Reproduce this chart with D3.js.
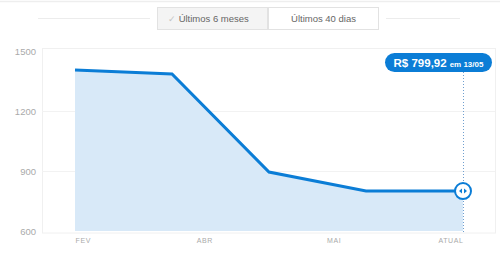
<!DOCTYPE html>
<html>
<head>
<meta charset="utf-8">
<script src="https://cdn.jsdelivr.net/npm/d3@7"></script>
<style>
  html, body { margin: 0; padding: 0; background: #fff; }
  svg { display: block; font-family: "Liberation Sans", Arial, sans-serif; }
</style>
</head>
<body>
<svg id="chart" width="500" height="263"></svg>
<script>
// Price history (R$) for the selected period
const points = ["fev", "mar", "abr", "mai", "atual"];
const prices = [1405, 1385, 895, 800, 799.92];
const currentLabel = "R$ 799,92";
const currentDate = "em 13/05";
const xTickLabels = ["FEV", "ABR", "MAI", "ATUAL"];
const xTickAt = [0, 4 / 3, 8 / 3, 4];
const yTicks = [600, 900, 1200, 1500];
const periods = ["Últimos 6 meses", "Últimos 40 dias"];

const blue = "#0b7dd6";
const svg = d3.select("#chart");

// ---- header: period switch ----
svg.append("line").attr("x1", 0).attr("x2", 500).attr("y1", 1.5).attr("y2", 1.5)
  .attr("stroke", "#eeeeee").attr("stroke-width", 1.5);
svg.append("line").attr("x1", 38).attr("x2", 150).attr("y1", 18.5).attr("y2", 18.5)
  .attr("stroke", "#ececec");
svg.append("line").attr("x1", 386).attr("x2", 460).attr("y1", 18.5).attr("y2", 18.5)
  .attr("stroke", "#ececec");

const btn = d3.scaleBand().domain(periods).range([157, 379]).padding(0);
const btnG = svg.append("g");
btnG.selectAll("rect").data(periods).join("rect")
  .attr("x", d => btn(d) + 0.5).attr("y", 7.5)
  .attr("width", btn.bandwidth() - 1).attr("height", 22)
  .attr("fill", (d, i) => i === 0 ? "#f4f4f4" : "#ffffff")
  .attr("stroke", "#e2e2e2");
btnG.selectAll("text").data(periods).join("text")
  .attr("x", (d, i) => btn(d) + btn.bandwidth() / 2 + (i === 0 ? -4 : 0))
  .attr("y", 22)
  .attr("text-anchor", "middle")
  .attr("font-size", 9.5)
  .attr("fill", "#666")
  .each(function (d, i) {
    const t = d3.select(this);
    if (i === 0) {
      t.append("tspan").attr("fill", "#c4c4c4").attr("font-size", 9).text("✓ ");
    }
    t.append("tspan").text(d);
  });

// ---- chart area ----
const plot = { left: 42, right: 495, top: 48, bottom: 232.5 };
const x = d3.scaleLinear().domain([0, points.length - 1]).range([75, 463]);
const y = d3.scaleLinear().domain([600, 1500]).range([231, 51]);

// frame
svg.append("rect")
  .attr("x", plot.left + 0.5).attr("y", plot.top + 0.5)
  .attr("width", plot.right - plot.left).attr("height", plot.bottom - plot.top)
  .attr("fill", "none").attr("stroke", "#f0f0f0");

// horizontal grid
svg.append("g").selectAll("line").data(yTicks.slice(1, -1)).join("line")
  .attr("x1", plot.left).attr("x2", plot.right)
  .attr("y1", d => Math.round(y(d)) + 0.5).attr("y2", d => Math.round(y(d)) + 0.5)
  .attr("stroke", "#f2f2f2");

// y axis labels
const yAxis = d3.axisLeft(y).tickValues(yTicks).tickFormat(d3.format("d"))
  .tickSize(0).tickPadding(6);
svg.append("g").attr("transform", `translate(${plot.left},0)`).call(yAxis)
  .call(g => g.select(".domain").remove())
  .call(g => g.selectAll("text").attr("font-size", 9.5).attr("fill", "#aaa")
    .attr("font-family", "'Liberation Sans', Arial, sans-serif"));

// area + line
const idx = prices.map((v, i) => i);
const area = d3.area().x(i => x(i)).y0(y(600)).y1(i => y(prices[i]));
const line = d3.line().x(i => x(i)).y(i => y(prices[i]));
svg.append("path").datum(idx).attr("d", area).attr("fill", "#d8e9f8");
svg.append("path").datum(idx).attr("d", line)
  .attr("fill", "none").attr("stroke", blue).attr("stroke-width", 3)
  .attr("stroke-linejoin", "miter");

// x axis labels
const xAxis = d3.axisBottom(x).tickValues(xTickAt)
  .tickFormat((d, i) => xTickLabels[i]).tickSize(0).tickPadding(6);
svg.append("g").attr("transform", `translate(0,${plot.bottom})`).call(xAxis)
  .call(g => g.select(".domain").remove())
  .call(g => g.selectAll("text")
    .attr("font-size", 7).attr("fill", "#aaa").attr("letter-spacing", 0.6)
    .attr("font-family", "'Liberation Sans', Arial, sans-serif")
    .attr("text-anchor", (d, i) => i === 0 ? "start" : i === xTickAt.length - 1 ? "end" : "middle"));

// current price marker
const last = prices.length - 1;
const cx = x(last), cy = y(prices[last]);
const pill = { x: 385, y: 53, w: 107, h: 19 };
svg.append("line")
  .attr("x1", Math.round(cx) + 0.5).attr("x2", Math.round(cx) + 0.5)
  .attr("y1", pill.y + pill.h).attr("y2", plot.bottom)
  .attr("stroke", "#6f9fcf").attr("stroke-width", 1).attr("stroke-dasharray", "1,2");

svg.append("rect")
  .attr("x", pill.x).attr("y", pill.y).attr("width", pill.w).attr("height", pill.h)
  .attr("rx", 9.5).attr("fill", blue);
const label = svg.append("text")
  .attr("x", pill.x + pill.w / 2).attr("y", pill.y + 13.5)
  .attr("text-anchor", "middle").attr("fill", "#fff").attr("font-weight", "bold");
label.append("tspan").attr("font-size", 11.5).text(currentLabel);
label.append("tspan").attr("font-size", 8).attr("dx", 3).text(currentDate);

svg.append("circle").attr("cx", cx).attr("cy", cy).attr("r", 8)
  .attr("fill", "#fff").attr("stroke", blue).attr("stroke-width", 2);
const arrows = svg.append("g").attr("transform", `translate(${cx},${cy})`).attr("fill", blue);
arrows.append("path").attr("d", "M-1,-2.5 L-4,0 L-1,2.5 Z");
arrows.append("path").attr("d", "M1,-2.5 L4,0 L1,2.5 Z");
</script>
</body>
</html>
